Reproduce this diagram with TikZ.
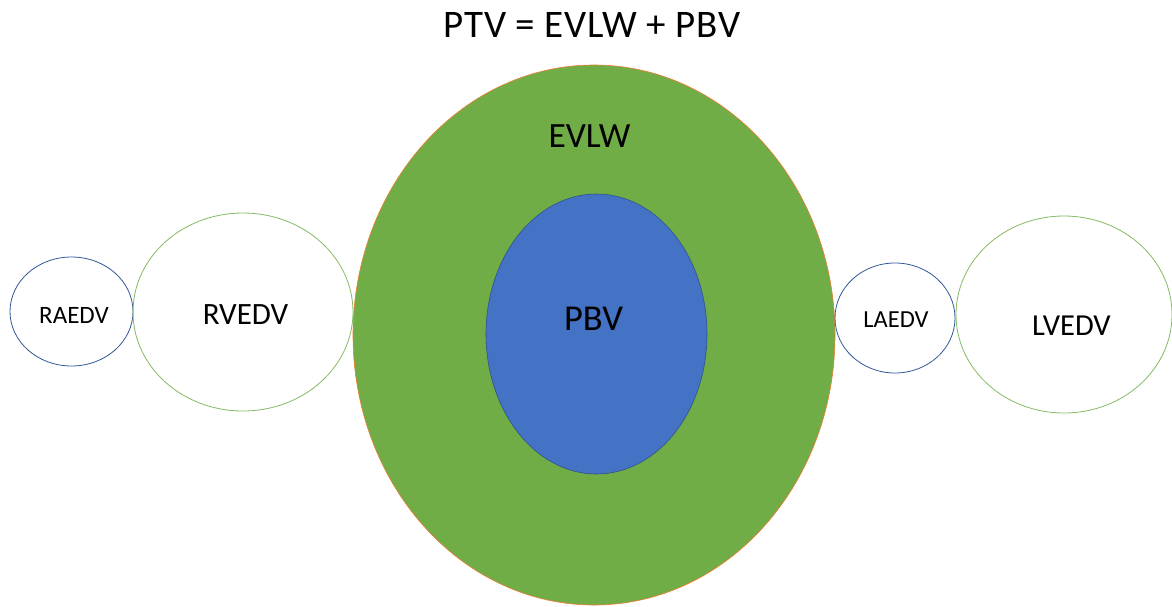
\documentclass[tikz,border=0pt]{standalone}
\usepackage{fontspec}
\setmainfont{Carlito}
\usetikzlibrary{shapes.geometric}

\definecolor{wallgreen}{HTML}{70AD47}
\definecolor{wallrim}{HTML}{ED7D31}
\definecolor{bloodblue}{HTML}{4472C4}
\definecolor{bloodrim}{HTML}{2F528F}

\tikzset{
  chamber/.style={ellipse, inner sep=0pt, line width=0.8pt},
  atrium/.style={chamber, draw=bloodrim!85!bloodblue},
  ventricle/.style={chamber, draw=wallgreen!85!white},
  lbl/.style={anchor=base, inner sep=0pt, text=black},
}

\begin{document}
\begin{tikzpicture}[x=1pt, y=-1pt]
\useasboundingbox (0,0) rectangle (1172,606);

% lung compartments
\node[chamber, fill=wallgreen, draw=wallrim, line width=0.6pt,
      minimum width=482pt, minimum height=540pt] (evlw) at (594,335) {};
\node[chamber, fill=bloodblue, draw=bloodrim, line width=0.6pt,
      minimum width=221pt, minimum height=280pt] (pbv) at (596.5,334) {};

% heart chambers
\node[atrium, minimum width=123pt, minimum height=109pt] (ra) at (71.5,311.5) {};
\node[ventricle, minimum width=220pt, minimum height=198pt] (rv) at (243,312) {};
\node[atrium, minimum width=120pt, minimum height=110pt] (la) at (895,318) {};
\node[ventricle, minimum width=216pt, minimum height=197pt] (lv) at (1064,314.5) {};

% labels
\node[lbl, font=\fontsize{39}{42}\selectfont\addfontfeatures{LetterSpace=2}] (title) at (592,37) {PTV = EVLW + PBV};
\node[lbl, font=\fontsize{35.5}{38}\selectfont] (evlwtxt) at (589.5,147) {EVLW};
\node[lbl, font=\fontsize{36.5}{39}\selectfont] (pbvtxt) at (593.5,330) {PBV};
\node[lbl, font=\fontsize{31}{34}\selectfont] (rvtxt) at (245.5,324) {RVEDV};
\node[lbl, font=\fontsize{30.5}{34}\selectfont] (lvtxt) at (1071.5,335) {LVEDV};
\node[lbl, font=\fontsize{25}{28}\selectfont] (ratxt) at (74,323) {RAEDV};
\node[lbl, font=\fontsize{24.5}{27}\selectfont] (latxt) at (896,327) {LAEDV};
\end{tikzpicture}
\end{document}
